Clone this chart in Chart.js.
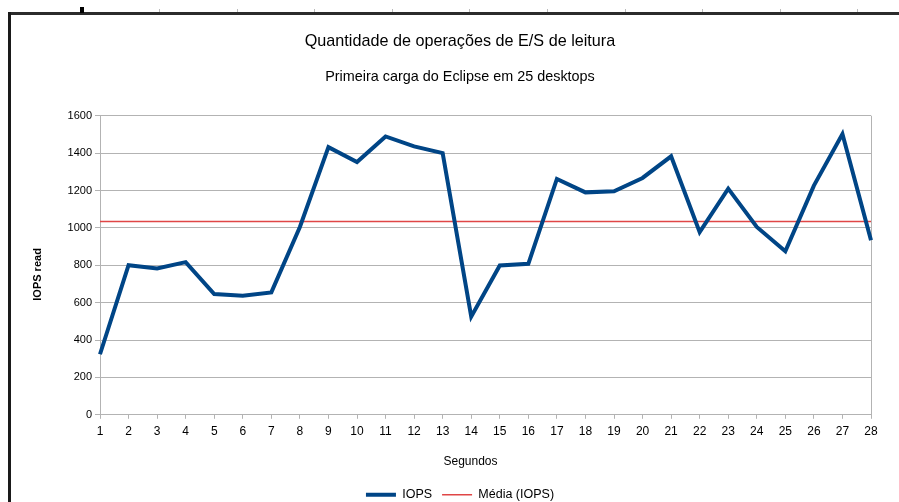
<!DOCTYPE html>
<html>
<head>
<meta charset="utf-8">
<script src="https://cdn.jsdelivr.net/npm/chart.js@4"></script>
<style>
  body { margin: 0; background: #fff; }
  #wrap { position: relative; width: 899px; height: 502px; overflow: hidden; }
  #myChart { position: absolute; left: 0; top: 0; }
  .frameTop { position: absolute; left: 8px; top: 12px; width: 891px; height: 3px; background: #2b2b2b; }
  .frameLeft { position: absolute; left: 8px; top: 12px; width: 3px; height: 490px; background: #1a1a1a; }
  .mark { position: absolute; left: 80px; top: 7px; width: 4px; height: 6px; background: #000; }
  .rtick { position: absolute; top: 9px; width: 1px; height: 3px; background: #bbb; }
</style>
</head>
<body>
<div id="wrap">
  <canvas id="myChart" width="899" height="502"></canvas>
  <div class="frameTop"></div>
  <div class="frameLeft"></div>
  <div class="mark"></div>
</div>
<script>
var segundos = ['1','2','3','4','5','6','7','8','9','10','11','12','13','14','15','16','17','18','19','20','21','22','23','24','25','26','27','28'];
var iops = [324, 800, 783, 817, 646, 637, 655, 1005, 1432, 1352, 1489, 1436, 1400, 525, 799, 808, 1262, 1190, 1196, 1267, 1383, 977, 1210, 1005, 875, 1226, 1502, 934];
var mediaIops = [1034, 1034, 1034, 1034, 1034, 1034, 1034, 1034, 1034, 1034, 1034, 1034, 1034, 1034, 1034, 1034, 1034, 1034, 1034, 1034, 1034, 1034, 1034, 1034, 1034, 1034, 1034, 1034];

// little ruler ticks along the top of the frame
var wrap = document.getElementById('wrap');
for (var i = 0; i < 10; i++) {
    var t = document.createElement('div');
    t.className = 'rtick';
    t.style.left = (159 + i * 77.6) + 'px';
    wrap.appendChild(t);
}

var grey = '#b3b3b3';
var fam = '"Liberation Sans", Arial, sans-serif';

var ctx = document.getElementById('myChart').getContext('2d');
var myChart = new Chart(ctx, {
    type: 'line',
    data: {
        labels: segundos,
        datasets: [{
            label: 'IOPS',
            data: iops,
            borderColor: '#004586',
            backgroundColor: '#004586',
            borderWidth: 4,
            pointRadius: 0,
            tension: 0
        }, {
            label: 'Média (IOPS)',
            data: mediaIops,
            borderColor: '#e04646',
            backgroundColor: '#e04646',
            borderWidth: 1.5,
            pointRadius: 0
        }]
    },
    options: {
        responsive: false,
        animation: false,
        layout: { padding: { left: 49, right: 28, top: 0, bottom: -9 } },
        plugins: {
            title: {
                display: true,
                text: 'Quantidade de operações de E/S de leitura',
                color: '#000',
                font: { family: fam, size: 16.2, weight: 'normal' },
                padding: { top: 32, bottom: 17 }
            },
            subtitle: {
                display: true,
                text: 'Primeira carga do Eclipse em 25 desktops',
                color: '#000',
                font: { family: fam, size: 14.4, weight: 'normal' },
                padding: { top: 0, bottom: 30 }
            },
            legend: {
                position: 'bottom',
                labels: {
                    usePointStyle: true,
                    pointStyle: 'line',
                    pointStyleWidth: 30,
                    boxHeight: 12,
                    color: '#000',
                    font: { family: fam, size: 12.5 },
                    padding: 10
                }
            },
            tooltip: { enabled: false }
        },
        scales: {
            x: {
                title: {
                    display: true,
                    text: 'Segundos         ',
                    color: '#000',
                    font: { family: fam, size: 12 },
                    padding: { top: 9.4, bottom: 9.5 }
                },
                grid: {
                    color: function (c) { return c.index === segundos.length - 1 ? grey : 'transparent'; },
                    tickColor: grey,
                    tickLength: 4
                },
                border: { color: grey },
                ticks: {
                    color: '#000',
                    font: { family: fam, size: 12 },
                    padding: 6,
                    maxRotation: 0,
                    autoSkip: false
                }
            },
            y: {
                min: 0,
                max: 1600,
                title: {
                    display: true,
                    text: 'IOPS read      ',
                    color: '#000',
                    font: { family: fam, size: 11, weight: 'bold' },
                    padding: { top: -18, bottom: 0 }
                },
                grid: { color: grey, tickColor: grey, tickLength: 5 },
                border: { color: grey },
                ticks: {
                    stepSize: 200,
                    color: '#000',
                    font: { family: fam, size: 11 },
                    padding: 3,
                    callback: function (v) { return String(v); }
                },
                afterFit: function (scale) { scale.width = 51; }
            }
        }
    }
});
</script>
</body>
</html>
